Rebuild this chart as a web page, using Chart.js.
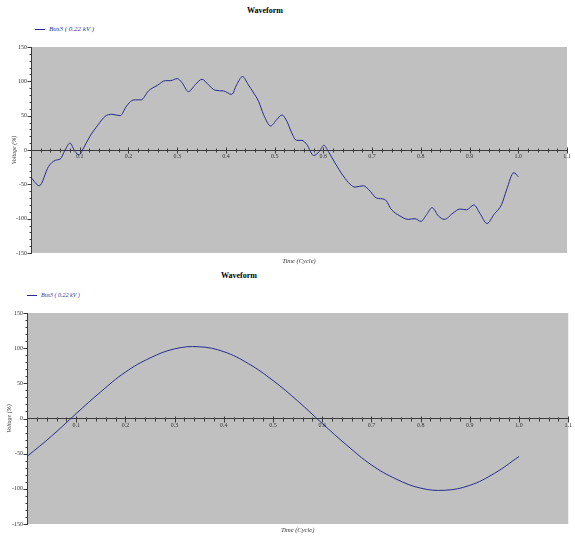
<!DOCTYPE html>
<html>
<head>
<meta charset="utf-8">
<title>Waveform</title>
<script src="https://cdn.jsdelivr.net/npm/chart.js@4/dist/chart.umd.min.js"></script>
<style>
  body { margin: 0; background: #fff; font-family: "Liberation Serif", "Times New Roman", serif; }
  #page { position: relative; width: 575px; height: 537px; overflow: hidden; }
  canvas { position: absolute; left: 0; }
  .chart-title { position: absolute; font-weight: bold; font-size: 8px; line-height: 10px; color: #000; transform: translateX(-50%); white-space: nowrap; }
  .legend { position: absolute; font-style: italic; line-height: 8px; color: #33339a; white-space: nowrap; }
  .legend .swatch { display: inline-block; height: 0; border-top: 1px solid #2a2a90; vertical-align: middle; }
</style>
</head>
<body>
<div id="page">
  <div class="chart-title" style="left:265px;top:6px;">Waveform</div>
  <div class="legend" style="left:35px;top:25px;font-size:7px;"><span class="swatch" style="width:10px;margin-right:4px;"></span><span class="series-name"></span></div>
  <canvas id="topChart" width="575" height="268" style="top:0;"></canvas>

  <div class="chart-title" style="left:239px;top:271px;">Waveform</div>
  <div class="legend" style="left:27px;top:291px;font-size:6px;"><span class="swatch" style="width:10px;margin-right:4px;"></span><span class="series-name"></span></div>
  <canvas id="bottomChart" width="575" height="269" style="top:268px;"></canvas>
</div>

<script>
// series label
const seriesName = 'Bus3 ( 0.22 kV )';

// top plot: distorted waveform (time in cycles, voltage in %)
const topTime = [0, 0.017, 0.036, 0.05, 0.06, 0.07, 0.08, 0.09, 0.099, 0.108,
  0.121, 0.138, 0.152, 0.166, 0.183, 0.196, 0.207, 0.214, 0.226, 0.241,
  0.259, 0.276, 0.286, 0.3, 0.31, 0.323, 0.337, 0.351, 0.364, 0.378,
  0.395, 0.412, 0.422, 0.434, 0.446, 0.457, 0.467, 0.477, 0.492, 0.504,
  0.515, 0.525, 0.535, 0.545, 0.556, 0.566, 0.58, 0.592, 0.601, 0.61,
  0.624, 0.641, 0.655, 0.665, 0.682, 0.696, 0.709, 0.726, 0.74, 0.757,
  0.774, 0.788, 0.8, 0.812, 0.823, 0.836, 0.848, 0.866, 0.88, 0.894,
  0.909, 0.921, 0.936, 0.95, 0.966, 0.976, 0.991, 1.0];
const topVoltage = [-40, -52, -24, -15, -13, 0, 10, -2, -7, 3,
  20, 37, 49, 52, 50, 64, 72, 73, 73, 86,
  94, 101, 101, 104, 98, 85, 95, 103, 95, 87,
  86, 81, 95, 107, 95, 83, 71, 52, 35, 44,
  51, 42, 25, 14, 14, 8, -8, -2, 7, -2,
  -19, -38, -50, -54, -52, -60, -70, -72, -87, -96,
  -101, -100, -104, -94, -84, -96, -101, -92, -86, -87,
  -80, -92, -107, -94, -79, -58, -33, -39];

// bottom plot: fundamental only
const bottomTime = [0, 0.05, 0.1, 0.15, 0.2, 0.25, 0.3, 0.35, 0.4, 0.45,
  0.5, 0.55, 0.6, 0.65, 0.7, 0.75, 0.8, 0.85, 0.9, 0.95, 1.0];
const bottomVoltage = [-54, -25, 7, 38, 66, 86, 99, 102, 95, 78,
  54, 25, -7, -38, -66, -86, -99, -102, -95, -78, -54];

// axis ranges / steps
const xRange = [0, 1.1];
const yRange = [-150, 150];
const xMajorStep = 0.1;
const yMajorStep = 50;

const LINE = '#2a2a90';
const AXIS = '#3a3a3a';
const FONT = '"Liberation Serif", "Times New Roman", serif';

document.querySelectorAll('.series-name').forEach(el => { el.textContent = seriesName; });

// grey plot background
const plotBg = {
  id: 'plotBg',
  beforeDraw(chart) {
    const { ctx, chartArea: a } = chart;
    ctx.save();
    ctx.fillStyle = '#c0c0c0';
    ctx.fillRect(a.left, a.top, a.right - a.left, a.bottom - a.top);
    ctx.restore();
  }
};

// major + minor tick marks (x ticks cross the zero line, y ticks sit left of the axis)
const axisTicks = {
  id: 'axisTicks',
  afterDraw(chart) {
    const { ctx, chartArea } = chart;
    const xs = chart.scales.x, ys = chart.scales.y;
    const y0 = Math.round(ys.getPixelForValue(0)) + 0.5;
    const left = Math.round(chartArea.left) + 0.5;
    ctx.save();
    ctx.strokeStyle = AXIS;
    ctx.lineWidth = 1;
    ctx.beginPath();
    for (let i = 0; i <= 55; i++) {
      const px = Math.round(xs.getPixelForValue(i * 0.02)) + 0.5;
      const h = i % 5 === 0 ? 3 : 2;
      ctx.moveTo(px, y0 - h);
      ctx.lineTo(px, y0 + h);
    }
    for (let i = -15; i <= 15; i++) {
      const py = Math.round(ys.getPixelForValue(i * 10)) + 0.5;
      const w = i % 5 === 0 ? 4 : 2;
      ctx.moveTo(left - w, py);
      ctx.lineTo(left, py);
    }
    ctx.stroke();
    ctx.restore();
  }
};

function makeChart(id, times, volts, layout) {
  const points = times.map((t, i) => ({ x: t, y: volts[i] }));
  return new Chart(document.getElementById(id), {
    type: 'line',
    data: {
      datasets: [{
        label: seriesName,
        data: points,
        borderColor: LINE,
        borderWidth: 1,
        pointRadius: 0,
        fill: false,
        tension: layout.tension,
        cubicInterpolationMode: layout.monotone ? 'monotone' : 'default'
      }]
    },
    options: {
      responsive: false,
      animation: false,
      events: [],
      layout: { padding: { top: layout.top, right: layout.right, bottom: 0, left: 0 } },
      plugins: { legend: { display: false }, title: { display: false }, tooltip: { enabled: false } },
      scales: {
        x: {
          type: 'linear',
          position: { y: 0 },
          min: xRange[0],
          max: xRange[1],
          grid: { drawOnChartArea: false, drawTicks: false },
          border: { color: AXIS, width: 1 },
          ticks: {
            stepSize: xMajorStep,
            autoSkip: false,
            maxRotation: 0,
            padding: 3,
            color: '#333',
            font: { family: FONT, size: 6 },
            callback: v => (v < 0.05 ? '' : v.toFixed(1))
          }
        },
        xTitle: {
          type: 'linear',
          axis: 'x',
          position: 'bottom',
          min: xRange[0],
          max: xRange[1],
          grid: { display: false },
          border: { display: false },
          ticks: { display: false },
          title: {
            display: true,
            text: 'Time (Cycle)',
            color: '#333',
            font: { family: FONT, size: 6.5, style: 'italic' },
            padding: { top: 0, bottom: layout.xTitlePad }
          },
          afterFit(s) { s.height = layout.bottomH; }
        },
        y: {
          type: 'linear',
          position: 'left',
          min: yRange[0],
          max: yRange[1],
          grid: { drawOnChartArea: false, drawTicks: false },
          border: { color: AXIS, width: 1 },
          ticks: {
            stepSize: yMajorStep,
            padding: 4,
            color: '#333',
            font: { family: FONT, size: 6 }
          },
          title: {
            display: true,
            text: 'Voltage (%)',
            color: '#333',
            font: { family: FONT, size: 6, style: 'italic' },
            padding: { top: layout.yTitlePad, bottom: 0 }
          },
          afterFit(s) { s.width = layout.left; }
        }
      }
    },
    plugins: [plotBg, axisTicks]
  });
}

makeChart('topChart', topTime, topVoltage, {
  top: 47, right: 8, left: 31, bottomH: 15, xTitlePad: 2.5, yTitlePad: 11, tension: 0.4, monotone: true
});
makeChart('bottomChart', bottomTime, bottomVoltage, {
  top: 45, right: 6, left: 27, bottomH: 13, xTitlePad: 3, yTitlePad: 6, tension: 0.4, monotone: false
});
</script>
</body>
</html>
